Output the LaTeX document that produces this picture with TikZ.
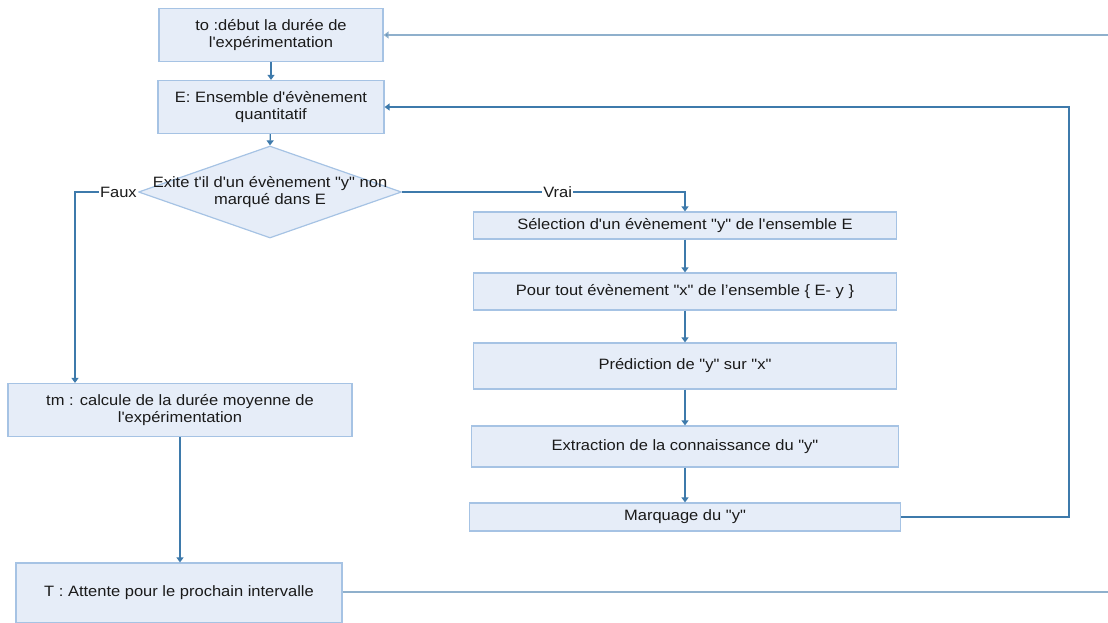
\documentclass[tikz,border=0pt]{standalone}
\usepackage{fontspec}
\setmainfont{Liberation Sans}[FakeStretch=1.1, Ligatures=TeXOff]
\usetikzlibrary{shapes.geometric,arrows.meta}
\definecolor{boxfill}{HTML}{E6EDF8}
\definecolor{boxline}{HTML}{A6C3E4}
\definecolor{conn}{HTML}{3E7AAB}
\definecolor{connlight}{HTML}{8FB0CC}
\definecolor{txt}{HTML}{1A1A1A}
\tikzset{
  stepbox/.style={draw=boxline, fill=boxfill, line width=1.2pt, inner sep=0pt,
    align=center, text=txt, font=\fontsize{15}{16.5}\selectfont},
  decision/.style={diamond, draw=boxline, fill=boxfill, line width=1.2pt, inner sep=0pt},
  txtnode/.style={align=center, text=txt, font=\fontsize{15}{16.5}\selectfont, inner sep=0pt},
  lbl/.style={fill=white, text=txt, font=\fontsize{15}{16.5}\selectfont, inner sep=1pt},
  arr/.style={draw=conn, line width=1.3pt, -{Triangle[width=7pt,length=5pt]}},
  light/.style={draw=connlight, line width=1.6pt}
}
\begin{document}
\begin{tikzpicture}[x=1pt,y=-1pt]
\useasboundingbox (0,0) rectangle (1108,622);
% nodes
\node[stepbox, minimum width=224pt, minimum height=53pt] (to) at (271,35)
  {to :début la durée de\\l'expérimentation};
\node[stepbox, minimum width=226pt, minimum height=53pt] (E) at (271,107)
  {E: Ensemble d'évènement\\quantitatif};
\node[decision, minimum width=263pt, minimum height=92pt] (d) at (270,192) {};
\node[txtnode] (dt) at (d.center) {Exite t'il d'un évènement "y" non\\marqué dans E};
\node[stepbox, minimum width=423pt, minimum height=27pt] (sel) at (685,225.5)
  {Sélection d'un évènement "y" de l'ensemble E};
\node[stepbox, minimum width=423pt, minimum height=37pt] (pour) at (685,291.5)
  {Pour tout évènement "x" de l’ensemble \{ E- y \}};
\node[stepbox, minimum width=423pt, minimum height=46pt] (pred) at (685,366)
  {Prédiction de "y" sur "x"};
\node[stepbox, minimum width=427pt, minimum height=41pt] (extr) at (685,446.5)
  {Extraction de la connaissance du "y"};
\node[stepbox, minimum width=431pt, minimum height=28pt] (mark) at (685,517)
  {Marquage du "y"};
\node[stepbox, minimum width=344pt, minimum height=53pt] (tm) at (180,410)
  {tm : calcule de la durée moyenne de\\l'expérimentation};
\node[stepbox, minimum width=326pt, minimum height=60pt] (T) at (179,593)
  {T : Attente pour le prochain intervalle};
% coordinates
\coordinate (fx) at (75,192);
\coordinate (vx) at (685,192);
\coordinate (lx) at (1069,300);
\coordinate (tr) at (1108,35);
\coordinate (br) at (1108,592);
% connectors
\draw[arr] (to) -- (E);
\draw[arr] (E) -- (d.north);
\draw[arr] (d.west) -- node[lbl, pos=0.31]{Faux} (fx) -- (fx |- tm.north);
\draw[arr] (d.east) -- node[lbl, pos=0.55]{Vrai} (vx) -- (sel.north);
\draw[arr] (sel) -- (pour);
\draw[arr] (pour) -- (pred);
\draw[arr] (pred) -- (extr);
\draw[arr] (extr) -- (mark);
\draw[arr] (mark.east) -| (lx) |- (E.east);
\draw[arr] (tm) -- (tm.south |- T.north);
\draw[light, -{Triangle[width=7pt,length=5pt,fill=conn]}] (tr) -- (to.east);
\draw[light] (T.east |- br) -- (br);
\end{tikzpicture}
\end{document}
